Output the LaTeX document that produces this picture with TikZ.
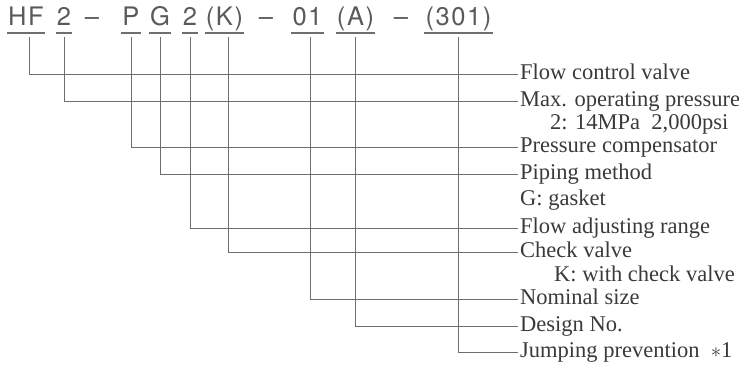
\documentclass[tikz,border=0pt]{standalone}
\usepackage{fontspec}
\setmainfont{Liberation Serif}
\newfontfamily\codefont[LetterSpace=6]{TeX Gyre Heros}
\definecolor{codegray}{HTML}{5A5A5A}
\definecolor{linegray}{HTML}{6E6E6E}
\definecolor{txtgray}{HTML}{3A3A3A}
\begin{document}
\begin{tikzpicture}[x=1bp,y=-1bp,
  code/.style={font=\codefont\fontsize{25.5bp}{28bp}\selectfont, text=codegray, anchor=base, inner xsep=1bp, inner ysep=0pt, text height=18bp, text depth=6bp},
  uline/.style={draw=linegray, line width=1.3bp},
  conn/.style={draw=linegray, line width=1bp},
  lab/.style={font=\fontsize{22.5bp}{26bp}\selectfont, text=txtgray, anchor=west, inner xsep=2bp, inner ysep=0pt, text height=15bp, text depth=5bp},
  sub/.style={font=\fontsize{22.5bp}{26bp}\selectfont, text=txtgray, anchor=base west, inner sep=0pt}
]
\useasboundingbox (0,0) rectangle (739,366);

% code
\node[code] (hf)  at (26,25)   {HF};
\node[code] (p2)  at (64,25)   {2};
\node[code] (d1)  at (92,25)   {\textendash};
\node[code] (pp)  at (131,25)  {P};
\node[code] (pg)  at (160,25)  {G};
\node[code] (f2)  at (190,25)  {2};
\node[code] (kk)  at (224.5,25){(K)};
\node[code] (d2)  at (266,25)  {\textendash};
\node[code] (n01) at (307.5,25){01};
\node[code] (aa)  at (355.5,25){(A)};
\node[code] (d3)  at (401,25)  {\textendash};
\node[code] (jp)  at (458.5,25){(301)};

\foreach \n in {hf,p2,pp,pg,f2,kk,n01,aa,jp}
  \draw[uline] ([yshift=-8bp]\n.base west) -- ([yshift=-8bp]\n.base east);

% labels
\node[lab] (l1) at (518,74)  {Flow control valve};
\node[lab] (l2) at (518,101) {Max. operating pressure};
\node[sub] (s2) at (550,129) {2: 14MPa\ \ 2,000psi};
\node[lab] (l3) at (518,147) {Pressure compensator};
\node[lab] (l4) at (518,174) {Piping method};
\node[sub] (s4) at (520,205) {G: gasket};
\node[lab] (l5) at (518,228) {Flow adjusting range};
\node[lab] (l6) at (518,252) {Check valve};
\node[sub] (s6) at (554,281) {K: with check valve};
\node[lab] (l7) at (518,299) {Nominal size};
\node[lab] (l8) at (518,326) {Design No.};
\node[lab] (l9) at (518,352) {Jumping prevention\ \ $\ast$1};

% connectors
\draw[conn] ([xshift=3bp,yshift=-12bp]hf.base) |- (l1.west);
\draw[conn] ([yshift=-12bp]p2.base) |- (l2.west);
\draw[conn] ([yshift=-12bp]pp.base) |- (l3.west);
\draw[conn] ([yshift=-12bp]pg.base) |- (l4.west);
\draw[conn] ([yshift=-12bp]f2.base) |- (l5.west);
\draw[conn] ([xshift=3.5bp,yshift=-12bp]kk.base) |- (l6.west);
\draw[conn] ([xshift=2.5bp,yshift=-12bp]n01.base) |- (l7.west);
\draw[conn] ([yshift=-12bp]aa.base) |- (l8.west);
\draw[conn] ([yshift=-12bp]jp.base) |- (l9.west);
\end{tikzpicture}
\end{document}
